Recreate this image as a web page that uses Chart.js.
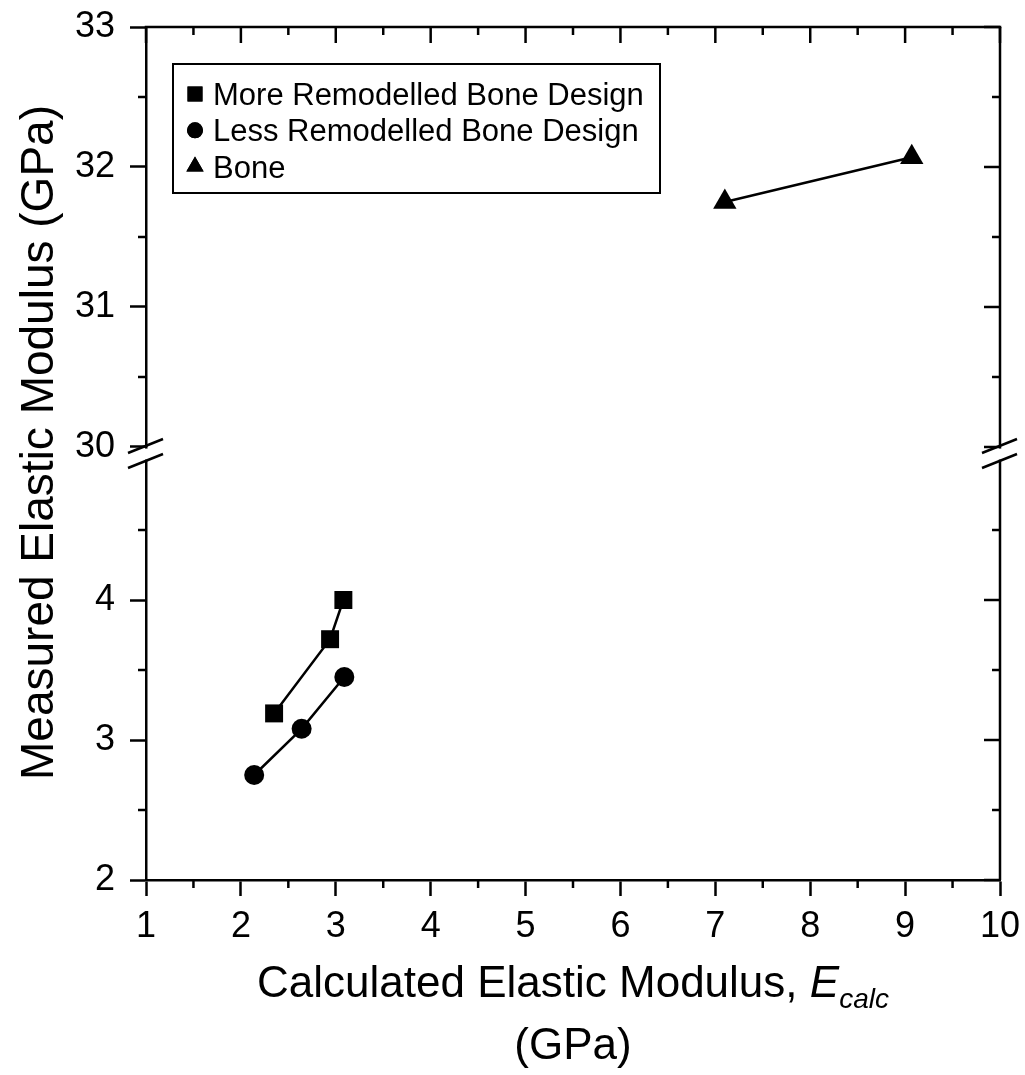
<!DOCTYPE html>
<html><head><meta charset="utf-8">
<script src="https://cdn.jsdelivr.net/npm/chart.js@4"></script>
<style>html,body{margin:0;padding:0;background:#fff}canvas{display:block}</style>
</head><body>
<canvas id="c" width="1025" height="1075"></canvas>
<script>
// ---------- data ----------
const seriesNames = ['More Remodelled Bone Design', 'Less Remodelled Bone Design', 'Bone'];
const moreX = [2.35, 2.94, 3.08];
const moreY = [3.19, 3.72, 4.00];
const lessX = [2.14, 2.64, 3.09];
const lessY = [2.75, 3.08, 3.45];
const boneX = [7.10, 9.07];
const boneY = [31.75, 32.07];
const xTicks = [1, 2, 3, 4, 5, 6, 7, 8, 9, 10];
const xMinor = [1.5, 2.5, 3.5, 4.5, 5.5, 6.5, 7.5, 8.5, 9.5];
const yLowTicks = [2, 3, 4];
const yLowMinor = [2.5, 3.5, 4.5];
const yHighTicks = [30, 31, 32, 33];
const yHighMinor = [30.5, 31.5, 32.5];
const xRange = [1, 10];
const yLowRange = [2, 5.093];
const yHighRange = [30, 33];
const xTitle = 'Calculated Elastic Modulus, ';
const xTitleSym = 'E';
const xTitleSub = 'calc';
const xTitle2 = '(GPa)';
const yTitle = 'Measured Elastic Modulus (GPa)';

// ---------- styling ----------
const FONT = '"Liberation Sans", Arial, Helvetica, sans-serif';
const LW = 2.5;
const MAJ = 16, MIN = 8;

const pts = (xs, ys) => xs.map((x, i) => ({x: x, y: ys[i]}));

function line(ctx, x1, y1, x2, y2) {
  ctx.beginPath(); ctx.moveTo(x1, y1); ctx.lineTo(x2, y2); ctx.stroke();
}
function noPad(s) { s.paddingTop = 0; s.paddingBottom = 0; s.paddingLeft = 0; s.paddingRight = 0; }

const framePlugin = {
  id: 'frame',
  afterDraw(chart) {
    const ctx = chart.ctx;
    const {left, right, top, bottom} = chart.chartArea;
    const sx = chart.scales.x, yl = chart.scales.yLow, yh = chart.scales.yHigh;
    ctx.save();
    ctx.strokeStyle = '#000'; ctx.lineWidth = LW; ctx.lineCap = 'butt';
    // frame top & right
    line(ctx, left - LW / 2, top, right + LW / 2, top);
    line(ctx, right, top, right, bottom);
    // top & bottom ticks
    xTicks.forEach(v => { const p = sx.getPixelForValue(v); line(ctx, p, top, p, top + MAJ); });
    xMinor.forEach(v => {
      const p = sx.getPixelForValue(v);
      line(ctx, p, top, p, top + MIN);
      line(ctx, p, bottom, p, bottom + MIN);
    });
    // right & left ticks
    const doY = (scale, maj, mnr) => {
      maj.forEach(v => { const p = scale.getPixelForValue(v); line(ctx, right - MAJ, p, right, p); });
      mnr.forEach(v => {
        const p = scale.getPixelForValue(v);
        line(ctx, right - MIN, p, right, p);
        line(ctx, left - MIN, p, left, p);
      });
    };
    doY(yl, yLowTicks, yLowMinor);
    doY(yh, yHighTicks, yHighMinor);
    // axis break
    const by = yh.bottom;
    ctx.fillStyle = '#fff';
    [left, right].forEach(ax => {
      ctx.fillRect(ax - 3, by + 1.6, 6, 11);
      line(ctx, ax - 18, by + 6, ax + 17, by - 8);
      line(ctx, ax - 18, by + 21, ax + 17, by + 7);
    });
    ctx.restore();

    // ---------- axis titles ----------
    ctx.save();
    ctx.fillStyle = '#000';
    const cx = (left + right) / 2;
    ctx.font = '44px ' + FONT;
    const w1 = ctx.measureText(xTitle).width;
    ctx.font = 'italic 44px ' + FONT;
    const w2 = ctx.measureText(xTitleSym).width;
    ctx.font = 'italic 28px ' + FONT;
    const w3 = ctx.measureText(xTitleSub).width;
    let x0 = cx - (w1 + w2 + w3) / 2;
    ctx.textBaseline = 'alphabetic'; ctx.textAlign = 'left';
    ctx.font = '44px ' + FONT; ctx.fillText(xTitle, x0, 997);
    ctx.font = 'italic 44px ' + FONT; ctx.fillText(xTitleSym, x0 + w1, 997);
    ctx.font = 'italic 28px ' + FONT; ctx.fillText(xTitleSub, x0 + w1 + w2, 1008);
    ctx.font = '44px ' + FONT; ctx.textAlign = 'center';
    ctx.fillText(xTitle2, cx, 1059);
    ctx.font = '46px ' + FONT;
    ctx.translate(53, (top + bottom) / 2 - 11);
    ctx.rotate(-Math.PI / 2);
    ctx.fillText(yTitle, 0, 0);
    ctx.restore();

    // ---------- legend ----------
    ctx.save();
    const bx = left + 27, bw = 487, bt = top + 37, bh = 129;
    ctx.strokeStyle = '#000'; ctx.lineWidth = 2;
    ctx.strokeRect(bx, bt, bw, bh);
    ctx.font = '31px ' + FONT; ctx.fillStyle = '#000';
    ctx.textAlign = 'left'; ctx.textBaseline = 'alphabetic';
    const radii = [10.6, 8, 10];
    chart.data.datasets.forEach((ds, i) => {
      const base = bt + 41 + i * 36.3;
      const my = base - 11;
      Chart.helpers.drawPoint(ctx, {pointStyle: ds.pointStyle, radius: radii[i], rotation: 0, borderWidth: 0}, bx + 22, my);
      ctx.fillStyle = '#000';
      ctx.fill();
      ctx.fillText(ds.label, bx + 40, base);
    });
    ctx.restore();
  }
};

const tickFont = {family: FONT, size: 36};
const gridOpts = {display: true, drawOnChartArea: false, drawTicks: true, tickLength: MAJ, tickWidth: LW, tickColor: '#000'};
const borderOpts = {display: true, color: '#000', width: LW};

new Chart(document.getElementById('c'), {
  type: 'scatter',
  data: {
    datasets: [
      {label: seriesNames[0], data: pts(moreX, moreY), yAxisID: 'yLow', pointStyle: 'rect', pointRadius: 12.7,
       backgroundColor: '#000', borderColor: '#000', borderWidth: LW, pointBorderWidth: 0, showLine: true},
      {label: seriesNames[1], data: pts(lessX, lessY), yAxisID: 'yLow', pointStyle: 'circle', pointRadius: 10,
       backgroundColor: '#000', borderColor: '#000', borderWidth: LW, pointBorderWidth: 0, showLine: true},
      {label: seriesNames[2], data: pts(boneX, boneY), yAxisID: 'yHigh', pointStyle: 'triangle', pointRadius: 13.5,
       backgroundColor: '#000', borderColor: '#000', borderWidth: LW, pointBorderWidth: 0, showLine: true}
    ]
  },
  options: {
    responsive: false,
    animation: false,
    events: [],
    clip: false,
    layout: {padding: {top: 27, right: 25, bottom: 0, left: 0}},
    plugins: {legend: {display: false}, tooltip: {enabled: false}},
    scales: {
      x: {
        type: 'linear', position: 'bottom', min: xRange[0], max: xRange[1],
        afterBuildTicks: s => { s.ticks = xTicks.map(v => ({value: v})); },
        afterFit: s => { s.height = 195; noPad(s); },
        ticks: {font: tickFont, color: '#000', padding: 9, maxRotation: 0, autoSkip: false},
        grid: gridOpts, border: borderOpts
      },
      yLow: {
        type: 'linear', position: 'left', stack: 'y', stackWeight: (yLowRange[1] - yLowRange[0]) * 140,
        min: yLowRange[0], max: yLowRange[1],
        afterBuildTicks: s => { s.ticks = yLowTicks.map(v => ({value: v})); },
        afterFit: s => { s.width = 146; noPad(s); },
        ticks: {font: tickFont, color: '#000', padding: 15, autoSkip: false},
        grid: gridOpts, border: borderOpts
      },
      yHigh: {
        type: 'linear', position: 'left', stack: 'y', stackWeight: (yHighRange[1] - yHighRange[0]) * 140,
        min: yHighRange[0], max: yHighRange[1],
        afterBuildTicks: s => { s.ticks = yHighTicks.map(v => ({value: v})); },
        afterFit: s => { s.width = 146; noPad(s); },
        ticks: {font: tickFont, color: '#000', padding: 15, autoSkip: false},
        grid: gridOpts, border: borderOpts
      }
    }
  },
  plugins: [framePlugin]
});
</script>
</body></html>
